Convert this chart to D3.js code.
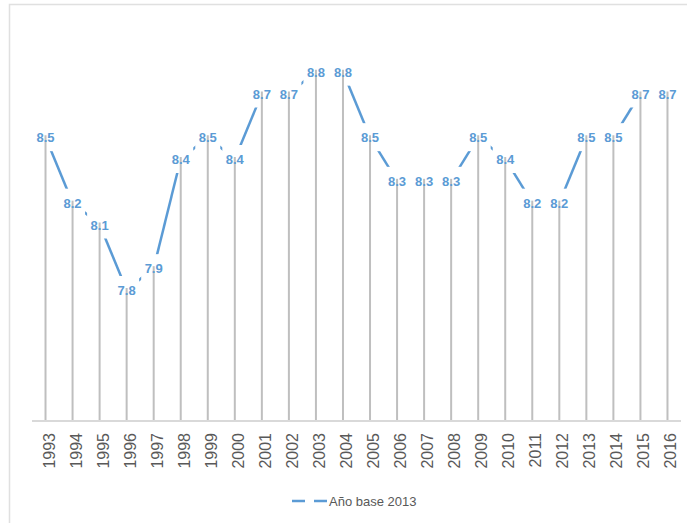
<!DOCTYPE html>
<html>
<head>
<meta charset="utf-8">
<style>
  body { margin: 0; background: #fff; }
  svg { font-family: "Liberation Sans", Arial, sans-serif; }
  .drop { stroke: #bfbfbf; stroke-width: 2; }
  .base { stroke: #d9d9d9; stroke-width: 2; }
  .val { fill: #5b9bd5; font-size: 13px; font-weight: bold; }
  .tick { fill: #595959; font-size: 16px; }
  .leg { fill: #595959; font-size: 13px; }
</style>
</head>
<body>
<script src="https://d3js.org/d3.v7.min.js"></script>
<script>
// datos
var years = ["1993","1994","1995","1996","1997","1998","1999","2000","2001","2002","2003","2004",
             "2005","2006","2007","2008","2009","2010","2011","2012","2013","2014","2015","2016"];
var values = [8.5, 8.2, 8.1, 7.8, 7.9, 8.4, 8.5, 8.4, 8.7, 8.7, 8.8, 8.8,
              8.5, 8.3, 8.3, 8.3, 8.5, 8.4, 8.2, 8.2, 8.5, 8.5, 8.7, 8.7];
var seriesName = "Año base 2013";

var width = 687, height = 523;
var color = "#5b9bd5";

var svg = d3.select("body").append("svg")
    .attr("width", width)
    .attr("height", height);

// marco del gráfico
svg.append("path")
    .attr("d", "M9.5," + height + "V4.5H" + width)
    .attr("fill", "none")
    .attr("stroke", "#e0e0e0")
    .attr("stroke-width", 1.5);

var x = d3.scaleBand().domain(years).range([32, 681]);
var y = d3.scaleLinear().domain([7.2, 9.0]).range([421, 28]);

var data = years.map(function (d, i) { return { year: d, v: values[i] }; });
var cx = function (d) { return x(d.year) + x.bandwidth() / 2; };

// tramos de la serie (los tramos planos quedan ocultos tras las etiquetas)
var segs = d3.pairs(data).filter(function (p) { return p[0].v !== p[1].v; });
var line = d3.line().x(cx).y(function (d) { return y(d.v); });
svg.selectAll(".seg")
    .data(segs)
    .enter().append("path")
    .attr("d", line)
    .attr("fill", "none")
    .attr("stroke", color)
    .attr("stroke-width", 2.5);

// fondo blanco de las etiquetas
svg.selectAll(".lblbg")
    .data(data)
    .enter().append("rect")
    .attr("x", function (d) { return cx(d) - 12.5; })
    .attr("y", function (d) { return y(d.v) - 14; })
    .attr("width", 25)
    .attr("height", 28)
    .attr("fill", "#fff");

// lineas de caida
svg.selectAll(".drop")
    .data(data)
    .enter().append("line")
    .attr("class", "drop")
    .attr("x1", cx).attr("x2", cx)
    .attr("y1", function (d) { return y(d.v) - 2; })
    .attr("y2", y.range()[0]);

svg.append("line")
    .attr("class", "base")
    .attr("x1", x.range()[0]).attr("x2", x.range()[1])
    .attr("y1", y.range()[0]).attr("y2", y.range()[0]);

// etiquetas de valor
svg.selectAll(".val")
    .data(data)
    .enter().append("text")
    .attr("class", "val")
    .attr("x", cx)
    .attr("y", function (d) { return y(d.v) + 5; })
    .attr("text-anchor", "middle")
    .text(function (d) { return d.v.toFixed(1); });

// eje x
svg.selectAll(".tick")
    .data(years)
    .enter().append("text")
    .attr("class", "tick")
    .attr("text-anchor", "end")
    .attr("transform", function (d) {
        return "translate(" + (x(d) + x.bandwidth() / 2 + 9) + ",433) rotate(-90)";
    })
    .text(function (d) { return d; });

// leyenda
var leg = svg.append("g").attr("transform", "translate(292,501)");
leg.append("line")
    .attr("x1", 0).attr("x2", 35)
    .attr("stroke", color)
    .attr("stroke-width", 2.5)
    .attr("stroke-dasharray", "13,9");
leg.append("text")
    .attr("class", "leg")
    .attr("x", 37)
    .attr("y", 4.5)
    .text(seriesName);
</script>
</body>
</html>
